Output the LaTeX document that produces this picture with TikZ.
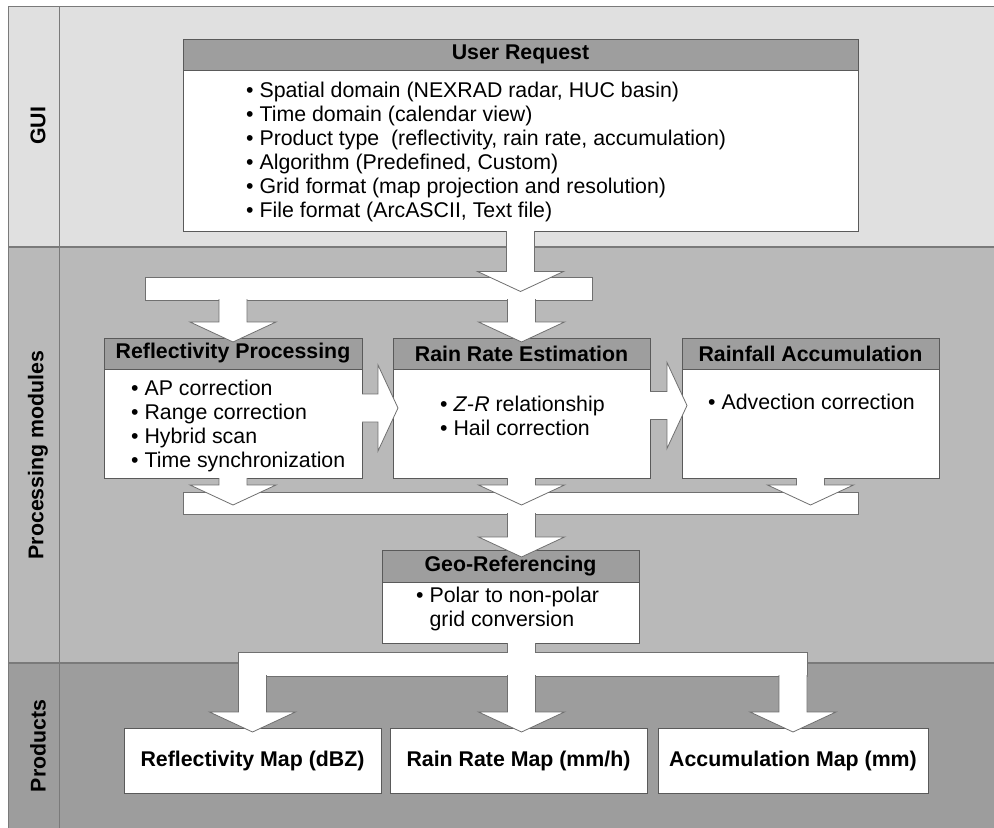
\documentclass[tikz,border=0pt]{standalone}
\usepackage{fontspec}
\setmainfont{Liberation Sans}
\usetikzlibrary{calc,positioning}
\definecolor{guigray}{HTML}{E0E0E0}
\definecolor{procgray}{HTML}{B9B9B9}
\definecolor{prodgray}{HTML}{9D9D9D}
\definecolor{headgray}{HTML}{9E9E9E}
\definecolor{edgegray}{HTML}{5A5A5A}
\definecolor{arrgray}{HTML}{707070}
\definecolor{framegray}{HTML}{7A7A7A}

\newcommand\blockdn[2]{%
\filldraw[blk] let \p1=#1, \p2=#2 in
 (\x1-14bp,\y1) -- (\x1-14bp,\y2+20bp) -- (\x1-43bp,\y2+20bp) -- (\x1,\y2)
 -- (\x1+43bp,\y2+20bp) -- (\x1+14bp,\y2+20bp) -- (\x1+14bp,\y1);}
\newcommand\blockrt[2]{%
\filldraw[blk] let \p1=#1, \p2=#2 in
 (\x1,\y1+14bp) -- (\x2-20bp,\y1+14bp) -- (\x2-20bp,\y1+43bp) -- (\x2,\y1)
 -- (\x2-20bp,\y1-43bp) -- (\x2-20bp,\y1-14bp) -- (\x1,\y1-14bp);}
\newcommand\blockshaft[2]{%
\fill[white] let \p1=#1, \p2=#2 in (\x1-14bp,\y1) rectangle (\x1+14bp,\y2);
\draw[blk] let \p1=#1, \p2=#2 in (\x1-14bp,\y1) -- (\x1-14bp,\y2) (\x1+14bp,\y1) -- (\x1+14bp,\y2);}

\tikzset{
 box/.style={draw=edgegray, line width=0.8bp, inner sep=0pt, outer sep=0pt},
 headbox/.style={box, fill=headgray, minimum height=31bp, font=\fontsize{21.4}{24}\selectfont\bfseries},
 bodybox/.style={box, fill=white},
 mapbox/.style={box, fill=white, minimum height=65bp, anchor=north west, font=\fontsize{21.4}{24}\selectfont\bfseries},
 itemtext/.style={align=left, anchor=west, inner sep=0pt, font=\fontsize{21.4}{24}\selectfont},
 bar/.style={draw=arrgray, fill=white, line width=0.8bp, inner sep=0pt, outer sep=0pt, anchor=north west},
 blk/.style={draw=arrgray, fill=white, line width=0.8bp},
 lanelabel/.style={rotate=90, inner sep=0pt, font=\fontsize{21.4}{24}\selectfont\bfseries}
}

\begin{document}
\begin{tikzpicture}[x=1bp,y=-1bp]
\useasboundingbox (0,0) rectangle (994,828);
\fill[guigray] (8,6) rectangle (994,247);
\fill[procgray] (8,247) rectangle (994,663);
\fill[prodgray] (8,663) rectangle (994,828);
\draw[framegray,line width=1bp] (994,6) -- (8,6) -- (8,828);
\draw[framegray,line width=1bp] (59,6) -- (59,828);
\draw[framegray,line width=1.5bp] (8,247) -- (994,247);
\draw[framegray,line width=1.5bp] (8,663) -- (994,663);

\node[lanelabel] (lblgui) at (38,126) {GUI};
\node[lanelabel] (lblproc) at (38,455) {Processing modules};
\node[lanelabel] (lblprod) at (38,746) {Products};

\node[headbox, minimum width=675bp, anchor=north west] (reqhead) at (183,39) {User Request};
\node[bodybox, minimum width=675bp, minimum height=161bp, below=0pt of reqhead] (req) {};
\node[itemtext] (reqlist) at (246,152) {• Spatial domain (NEXRAD radar, HUC basin)\\
 • Time domain (calendar view)\\
 • Product type\ \ (reflectivity, rain rate, accumulation)\\
 • Algorithm (Predefined, Custom)\\
 • Grid format (map projection and resolution)\\
 • File format (ArcASCII, Text file)};

\node[headbox, minimum width=258bp, anchor=north west] (reflhead) at (104,338) {Reflectivity Processing};
\node[bodybox, minimum width=258bp, minimum height=109bp, below=0pt of reflhead] (refl) {};
\node[itemtext] (refllist) at (131,426) {• AP correction\\ • Range correction\\ • Hybrid scan\\ • Time synchronization};

\node[headbox, minimum width=257bp, anchor=north west] (rainhead) at (393,338) {Rain Rate Estimation};
\node[bodybox, minimum width=257bp, minimum height=109bp, below=0pt of rainhead] (rain) {};
\node[itemtext] (rainlist) at (440,416) {• \textit{Z}-\textit{R} relationship\\ • Hail correction};

\node[headbox, minimum width=257bp, anchor=north west] (accuhead) at (682,338) {Rainfall Accumulation};
\node[bodybox, minimum width=257bp, minimum height=109bp, below=0pt of accuhead] (accu) {};
\node[itemtext] (acculist) at (708,402) {• Advection correction};

\node[headbox, minimum width=257bp, minimum height=32bp, anchor=north west] (geohead) at (382,550) {Geo-Referencing};
\node[bodybox, minimum width=257bp, minimum height=61bp, below=0pt of geohead] (geo) {};
\node[itemtext] (geolist) at (416,609) {• Polar to non-polar\\ \hphantom{•}\ grid conversion};

\node[mapbox, minimum width=257bp] (reflmap) at (124,728) {Reflectivity Map (dBZ)};
\node[mapbox, minimum width=257bp] (rainmap) at (390,728) {Rain Rate Map (mm/h)};
\node[mapbox, minimum width=270bp] (accumap) at (658,728) {Accumulation Map (mm)};

\node[bar, minimum width=447bp, minimum height=23bp] (split) at (145,277) {};
\node[bar, minimum width=675bp, minimum height=22bp] (merge) at (183,492) {};
\node[bar, minimum width=568.5bp, minimum height=24bp] (fork) at (238.5,652) {};

\blockdn{(req.south)}{($(req.south |- split.center)+(0,3)$)}
\blockdn{($(reflhead.north |- split.south)+(0,-1)$)}{($(reflhead.north)+(0,4)$)}
\blockdn{($(rainhead.north |- split.south)+(0,-1)$)}{($(rainhead.north)+(0,4)$)}
\blockrt{($(refl.east)+(0,-15.5)$)}{($(rain.west)+(5,-15.5)$)}
\blockrt{($(rain.east)+(0,-18)$)}{($(accu.west)+(5,-18)$)}
\blockdn{(refl.south)}{($(refl.south |- merge.center)+(0,2)$)}
\blockdn{(rain.south)}{($(rain.south |- merge.center)+(0,2)$)}
\blockdn{(accu.south)}{($(accu.south |- merge.center)+(0,2)$)}
\blockdn{($(rain.south |- merge.south)+(0,-1)$)}{($(rain.south |- geohead.north)+(0,7)$)}
\blockshaft{(rain.south |- geo.south)}{($(rain.south |- fork.north)+(0,1)$)}
\blockdn{($(reflmap.north |- fork.south)+(0,-1)$)}{($(reflmap.north)+(0,4)$)}
\blockdn{($(rain.south |- fork.south)+(0,-1)$)}{($(rain.south |- rainmap.north)+(0,4)$)}
\blockdn{($(accumap.north |- fork.south)+(0,-1)$)}{($(accumap.north)+(0,4)$)}
\end{tikzpicture}
\end{document}
